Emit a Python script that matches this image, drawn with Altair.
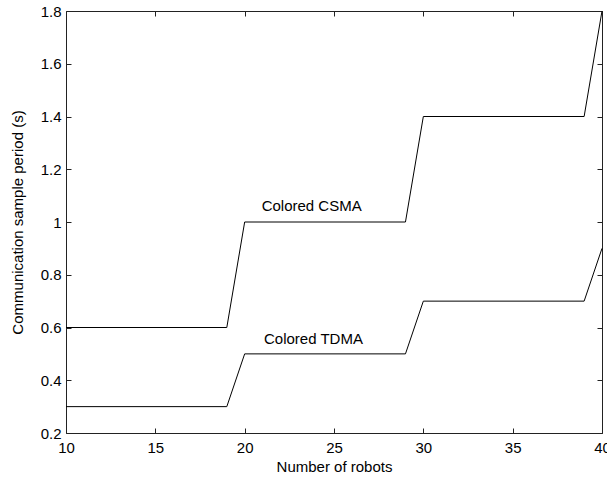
import altair as alt
import pandas as pd

# Step points of each series (number of robots -> sample period)
robots = [10, 19, 20, 29, 30, 39, 40]
csma = [0.6, 0.6, 1.0, 1.0, 1.4, 1.4, 1.8]
tdma = [0.3, 0.3, 0.5, 0.5, 0.7, 0.7, 0.9]

x_ticks = [10, 15, 20, 25, 30, 35, 40]
y_ticks = [0.2, 0.4, 0.6, 0.8, 1.0, 1.2, 1.4, 1.6, 1.8]

label_text = ["Colored CSMA", "Colored TDMA"]
label_x = [23.75, 23.85]
label_y = [1.06, 0.555]

rows = []
for r, c in zip(robots, csma):
    rows.append({"robots": r, "period": c, "series": "Colored CSMA"})
for r, t in zip(robots, tdma):
    rows.append({"robots": r, "period": t, "series": "Colored TDMA"})
df = pd.DataFrame(rows)
labels = pd.DataFrame({"text": label_text, "x": label_x, "y": label_y})

FONT = "Liberation Sans"
xscale = alt.Scale(domain=[10, 40], nice=False, zero=False)
yscale = alt.Scale(domain=[0.2, 1.8], nice=False, zero=False)

x_axis = alt.Axis(values=x_ticks, format="~g", offset=-5, tickSize=5, domain=False,
                  grid=False, labelPadding=7, labelFlush=False,
                  title="Number of robots", titlePadding=4)
y_axis = alt.Axis(values=y_ticks, format="~g", offset=-5, tickSize=5, domain=False,
                  grid=False, labelPadding=5, labelFlush=False,
                  title="Communication sample period (s)", titlePadding=15)

lines = alt.Chart(df).mark_line(color="black", strokeWidth=1).encode(
    x=alt.X("robots:Q", scale=xscale, axis=x_axis),
    y=alt.Y("period:Q", scale=yscale, axis=y_axis),
    detail="series:N",
)

top_right = alt.Chart(df).mark_point(opacity=0).encode(
    x=alt.X("robots:Q", scale=xscale,
            axis=alt.Axis(orient="top", values=x_ticks, offset=-5, tickSize=5,
                          domain=False, grid=False, labels=False, title=None)),
    y=alt.Y("period:Q", scale=yscale,
            axis=alt.Axis(orient="right", values=y_ticks, offset=-5, tickSize=5,
                          domain=False, grid=False, labels=False, title=None)),
)

text = alt.Chart(labels).mark_text(font=FONT, fontSize=15, color="black").encode(
    x=alt.X("x:Q", scale=xscale, axis=None),
    y=alt.Y("y:Q", scale=yscale, axis=None),
    text="text:N",
)

chart = alt.layer(lines, top_right, text).resolve_axis(
    x="independent", y="independent"
).properties(
    width=536, height=422,
    padding={"left": 66, "top": 11, "right": 5, "bottom": 49},
    autosize=alt.AutoSizeParams(type="none"),
    background="white",
).configure_view(
    stroke="#222222", strokeWidth=1
).configure_axis(
    labelFont=FONT, labelFontSize=15, labelColor="black",
    titleFont=FONT, titleFontSize=15, titleColor="black", titleFontWeight="normal",
    tickColor="#222222", tickWidth=1,
)

chart.save("out.html", embed_options={"renderer": "svg", "actions": False})
